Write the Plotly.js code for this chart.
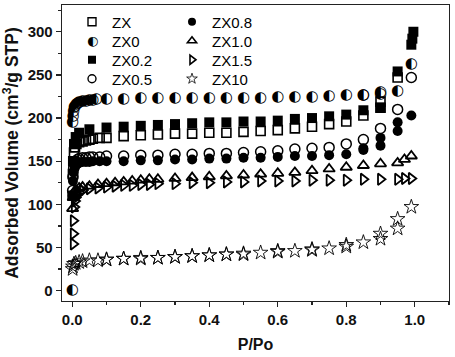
<!DOCTYPE html>
<html>
<head>
<meta charset="utf-8">
<script src="https://cdn.plot.ly/plotly-3.0.1.min.js"></script>
<style>html,body{margin:0;padding:0;background:#fff;}#chart{width:455px;height:357px;}</style>
</head>
<body>
<div id="chart"></div>
<script>
// ---------------- data ----------------
const seriesNames = ["ZX", "ZX0", "ZX0.2", "ZX0.5", "ZX0.8", "ZX1.0", "ZX1.5", "ZX10"];

const zx_x  = [0.001, 0.002, 0.003, 0.005, 0.008, 0.012, 0.02, 0.03, 0.04, 0.05, 0.06, 0.08, 0.1, 0.15, 0.2, 0.25, 0.3, 0.35, 0.4, 0.45, 0.5, 0.55, 0.6, 0.65, 0.7, 0.75, 0.8, 0.85, 0.9, 0.9, 0.95];
const zx_y  = [110, 135, 150, 160, 166, 170, 172, 173, 174, 175, 176, 177, 177, 179, 180, 181, 182, 182, 183, 183, 184, 185, 186, 188, 190, 193, 196, 203, 212, 219, 247];

const zx0_x = [0, 0.001, 0.002, 0.004, 0.006, 0.008, 0.012, 0.016, 0.02, 0.03, 0.04, 0.05, 0.06, 0.07, 0.1, 0.15, 0.2, 0.25, 0.3, 0.35, 0.4, 0.45, 0.5, 0.55, 0.6, 0.65, 0.7, 0.75, 0.8, 0.85, 0.9, 0.95, 0.99, 0.9, 0.85];
const zx0_y = [0, 195, 202, 208, 212, 214, 216, 217, 218, 219, 220, 221, 221, 222, 222, 222, 223, 223, 223, 223, 223, 223, 223, 223, 224, 224, 224, 225, 226, 227, 230, 231, 262, 228, 226];

const zx0_2_x = [0.002, 0.005, 0.01, 0.02, 0.05, 0.1, 0.15, 0.2, 0.25, 0.3, 0.35, 0.4, 0.45, 0.5, 0.55, 0.6, 0.65, 0.7, 0.75, 0.8, 0.85, 0.9, 0.95, 0.99, 0.993, 0.996];
const zx0_2_y = [150, 170, 178, 183, 187, 189, 190, 191, 192, 193, 194, 195, 195, 196, 196, 197, 199, 200, 202, 204, 209, 212, 254, 285, 292, 300];

const zx0_5_x = [0.001, 0.002, 0.004, 0.007, 0.01, 0.015, 0.02, 0.03, 0.04, 0.05, 0.06, 0.08, 0.1, 0.15, 0.2, 0.25, 0.3, 0.35, 0.4, 0.45, 0.5, 0.55, 0.6, 0.65, 0.7, 0.75, 0.8, 0.85, 0.9, 0.95, 0.99];
const zx0_5_y = [116, 132, 142, 147, 150, 152, 153, 154, 154, 155, 155, 155, 156, 156, 157, 157, 158, 158, 159, 159, 160, 161, 162, 164, 165, 166, 170, 175, 188, 210, 247];

const zx0_8_x = [0.001, 0.002, 0.004, 0.007, 0.01, 0.015, 0.02, 0.03, 0.04, 0.05, 0.06, 0.08, 0.1, 0.15, 0.2, 0.25, 0.3, 0.35, 0.4, 0.45, 0.5, 0.55, 0.6, 0.65, 0.7, 0.75, 0.8, 0.85, 0.9, 0.95, 0.99, 0.95, 0.9, 0.85];
const zx0_8_y = [110, 127, 137, 142, 145, 147, 148, 149, 149, 149, 150, 150, 150, 150, 151, 151, 152, 152, 153, 153, 154, 154, 155, 156, 156, 157, 158, 163, 168, 185, 203, 195, 177, 165];

const zx1_0_x = [0.001, 0.003, 0.006, 0.01, 0.02, 0.03, 0.05, 0.075, 0.1, 0.125, 0.15, 0.175, 0.2, 0.225, 0.25, 0.3, 0.35, 0.4, 0.45, 0.5, 0.55, 0.6, 0.65, 0.7, 0.75, 0.8, 0.85, 0.9, 0.95, 0.97, 0.99];
const zx1_0_y = [95, 108, 114, 117, 119, 120, 121, 123, 124, 125, 126, 127, 128, 129, 129, 130, 131, 132, 133, 134, 135, 136, 137, 139, 141, 143, 145, 147, 148, 152, 156];

const zx1_5_x = [0.003, 0.003, 0.003, 0.006, 0.008, 0.01, 0.015, 0.02, 0.03, 0.05, 0.075, 0.1, 0.125, 0.15, 0.175, 0.2, 0.225, 0.25, 0.3, 0.35, 0.4, 0.45, 0.5, 0.55, 0.6, 0.65, 0.7, 0.75, 0.8, 0.85, 0.9, 0.95, 0.97, 0.99];
const zx1_5_y = [54, 66, 81, 97, 104, 108, 111, 114, 116, 118, 119, 120, 121, 122, 122, 123, 123, 124, 124, 125, 125, 126, 126, 127, 127, 127, 128, 128, 128, 129, 129, 129, 130, 130];

const zx10_x = [0.001, 0.002, 0.005, 0.01, 0.02, 0.03, 0.05, 0.075, 0.1, 0.15, 0.2, 0.25, 0.3, 0.35, 0.4, 0.45, 0.5, 0.55, 0.6, 0.65, 0.7, 0.75, 0.8, 0.85, 0.9, 0.95, 0.99, 0.95, 0.9, 0.8, 0.7, 0.6, 0.5, 0.45, 0.4, 0.35, 0.3, 0.25, 0.2, 0.15, 0.1];
const zx10_y = [25, 28, 31, 32, 33, 34, 35, 35, 36, 37, 38, 38, 39, 40, 41, 42, 43, 44, 45, 46, 47, 49, 51, 56, 60, 72, 97, 83, 66, 53, 48, 46, 42, 42, 41, 40, 39, 38, 37, 37, 36];

// ---------------- styling ----------------
const FONT = 'Arial, "Liberation Sans", Helvetica, sans-serif';
const INK = '#000';
const halfGlyph = '\u25D0';

function mk(x, y, symbol, size, filled, lw) {
  return {
    type: 'scatter', mode: 'markers', x: x, y: y, showlegend: false, hoverinfo: 'skip',
    marker: filled ? {symbol: symbol, size: size, color: INK, line: {width: 0}}
                   : {symbol: symbol, size: size, color: INK, line: {color: INK, width: lw}}
  };
}

const traces = [
  mk(zx10_x, zx10_y, 'star-open', 11, false, 0.9),
  mk(zx1_5_x, zx1_5_y, 'triangle-right-open', 10, false, 1.8),
  mk(zx1_0_x, zx1_0_y, 'triangle-up-open', 10, false, 1.8),
  mk(zx0_8_x, zx0_8_y, 'circle', 10, true),
  mk(zx0_5_x, zx0_5_y, 'circle-open', 10, false, 1.5),
  mk(zx_x, zx_y, 'square-open', 9, false, 1.6),
  mk(zx0_2_x, zx0_2_y, 'square', 10, true),
  {
    type: 'scatter', mode: 'text', x: zx0_x, y: zx0_y, showlegend: false, hoverinfo: 'skip',
    text: zx0_x.map(() => halfGlyph), textposition: 'middle center',
    textfont: {family: 'DejaVu Sans', size: 15, color: INK}
  }
];

// legend entries (one small legend per entry so rows sit like the reference)
const legendSymbols = ['square-open', null, 'square', 'circle-open', 'circle', 'triangle-up-open', 'triangle-right-open', 'star-open'];
const legendFilled  = [false, false, true, false, true, false, false, false];
const legendLW      = [1.4, 0, 0, 1.4, 0, 1.6, 1.6, 0.8];
const legendLayouts = {};
const plotL = 62, plotR = 449, plotT = 5, plotB = 301;
const px2x = p => (p - plotL) / (plotR - plotL);
const px2y = p => (plotB - p) / (plotB - plotT);
const colSymX = [92, 192];
const rowY = [22, 41, 60, 79];
const annotations = [];
seriesNames.forEach((name, i) => {
  const key = i === 0 ? 'legend' : 'legend' + (i + 1);
  const col = Math.floor(i / 4), row = i % 4;
  const sym = legendSymbols[i];
  traces.push({
    type: 'scatter', mode: 'markers', x: [null], y: [null], name: name, legend: key, hoverinfo: 'skip',
    marker: sym ? (legendFilled[i] ? {symbol: sym, size: 8, color: INK, line: {width: 0}}
                                   : {symbol: sym, size: 8, color: INK, line: {color: INK, width: legendLW[i]}})
                : {symbol: 'circle', size: 8, opacity: 0}
  });
  legendLayouts[key] = {
    x: px2x(colSymX[col] - 20), xanchor: 'left', y: px2y(rowY[row]), yanchor: 'middle',
    bgcolor: 'rgba(0,0,0,0)', borderwidth: 0, font: {family: FONT, size: 15, color: INK},
    itemsizing: 'trace'
  };
  if (!sym) {
    annotations.push({xref: 'paper', yref: 'paper', x: px2x(colSymX[col]), y: px2y(rowY[row]),
      text: halfGlyph, showarrow: false, xanchor: 'center', yanchor: 'middle',
      font: {family: 'DejaVu Sans', size: 13, color: INK}});
  }
});

const axisCommon = {
  showgrid: false, zeroline: false, showline: true, linecolor: '#222', linewidth: 1.3, mirror: true,
  ticks: 'outside', ticklen: 5, tickwidth: 1.3, tickcolor: '#222',
  tickfont: {family: FONT, size: 15, color: '#111', weight: 'bold'}
};

const layout = Object.assign({
  width: 455, height: 357,
  margin: {l: plotL, r: 455 - plotR, t: plotT, b: 357 - plotB},
  paper_bgcolor: '#fff', plot_bgcolor: '#fff',
  showlegend: true,
  annotations: annotations,
  xaxis: Object.assign({}, axisCommon, {
    range: [-0.03, 1.1], tick0: 0, dtick: 0.2, tickformat: '.1f',
    minor: {dtick: 0.1, ticks: 'outside', ticklen: 3, tickwidth: 1.3, tickcolor: '#222'},
    title: {text: 'P/Po', font: {family: FONT, size: 16, color: '#111', weight: 'bold'}, standoff: 11}
  }),
  yaxis: Object.assign({}, axisCommon, {
    range: [-12, 331], tick0: 0, dtick: 50,
    minor: {dtick: 25, ticks: 'outside', ticklen: 3, tickwidth: 1.3, tickcolor: '#222'},
    title: {text: 'Adsorbed Volume (cm<sup>3</sup>/g STP)', font: {family: FONT, size: 17.5, color: '#111', weight: 'bold'}, standoff: 5}
  })
}, legendLayouts);

Plotly.newPlot('chart', traces, layout, {displayModeBar: false, staticPlot: true});
</script>
</body>
</html>
